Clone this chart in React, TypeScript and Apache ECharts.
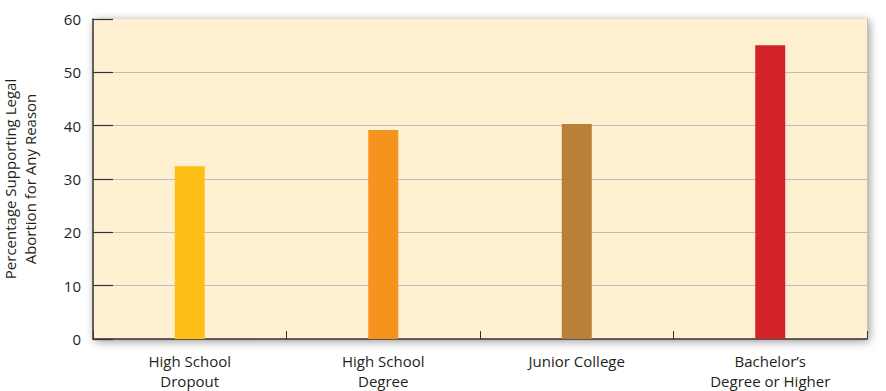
import React, { useEffect, useRef } from "react";
import * as echarts from "echarts";

const categories = ["High School\nDropout", "High School\nDegree", "Junior College", "Bachelor’s\nDegree or Higher"];
const values = [32.4, 39.2, 40.3, 55.1];
const barColors = ["#FDBE16", "#F6931F", "#B98039", "#D2232A"];
const yTicks = [0, 10, 20, 30, 40, 50, 60];
const yTitle = "Percentage Supporting Legal\nAbortion for Any Reason";

const FONT = "'Open Sans', sans-serif";

export default function App() {
  const ref = useRef<HTMLDivElement>(null);
  useEffect(() => {
    if (!ref.current) return;
    const chart = echarts.init(ref.current, undefined, { renderer: "svg" });
    const gridColors = yTicks.map((v, i) => (i === 0 || i === yTicks.length - 1 ? "rgba(0,0,0,0)" : "#BDBDBD"));
    chart.setOption({
      animation: false,
      backgroundColor: "#ffffff",
      textStyle: { fontFamily: FONT },
      grid: {
        left: 93,
        right: 19,
        top: 19,
        bottom: 52,
        containLabel: false,
        outerBoundsMode: "none",
        show: true,
        backgroundColor: "#FEF0D1",
        borderWidth: 0,
        shadowBlur: 10,
        shadowColor: "rgba(0,0,0,0.45)",
        shadowOffsetX: 2,
        shadowOffsetY: 2,
      },
      xAxis: {
        type: "category",
        data: categories,
        boundaryGap: true,
        axisLine: { show: true, lineStyle: { color: "#333", width: 1.5 } },
        axisTick: { show: true, inside: true, length: 8, lineStyle: { color: "#333" }, alignWithLabel: false },
        axisLabel: { color: "#231F20", fontSize: 15, lineHeight: 20, margin: 12, fontFamily: FONT },
        splitLine: { show: false },
      },
      yAxis: [
        {
          type: "value",
          min: 0,
          max: 60,
          interval: 10,
          name: yTitle,
          nameLocation: "middle",
          nameGap: 53,
          nameRotate: 90,
          nameTextStyle: { color: "#231F20", fontSize: 15, lineHeight: 20, fontFamily: FONT },
          axisLine: { show: true, lineStyle: { color: "#333", width: 1.5 } },
          axisTick: { show: true, inside: true, length: 20, lineStyle: { color: "#333", width: 1.2 } },
          axisLabel: { color: "#231F20", fontSize: 15, margin: 12, fontFamily: FONT },
          splitLine: { show: true, lineStyle: { color: gridColors, width: 1.2 } },
        },
        {
          type: "value",
          position: "right",
          min: 0,
          max: 60,
          interval: 10,
          axisLine: { show: true, lineStyle: { color: "#C8C0B0", width: 1 } },
          axisTick: { show: false },
          axisLabel: { show: false },
          splitLine: { show: false },
        },
      ],
      series: [
        {
          type: "bar",
          data: values.map((v, i) => ({ value: v, itemStyle: { color: barColors[i] } })),
          barWidth: 30,
        },
      ],
    });
    return () => chart.dispose();
  }, []);
  return <div ref={ref} style={{ position: "fixed", left: 0, top: 0, width: 886, height: 391 }} />;
}
